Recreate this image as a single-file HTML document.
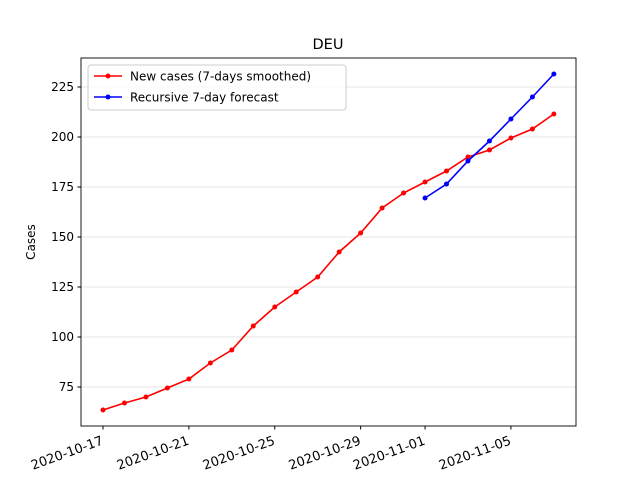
<!DOCTYPE html>
<html><head><meta charset="utf-8"><style>
body{margin:0;background:#fff;font-family:"Liberation Sans","DejaVu Sans",sans-serif}
svg text{font-family:"DejaVu Sans","Liberation Sans",sans-serif}
</style></head><body>
<svg id="chart" width="640" height="480" xmlns="http://www.w3.org/2000/svg">
<rect width="640" height="480" fill="#fff"/>
<text x="328" y="49" font-size="14.5" text-anchor="middle">DEU</text>
<g id="grid"></g>
<g id="axes"></g>
<g id="series"></g>
<rect x="81" y="58" width="495" height="368" fill="none" stroke="#000" stroke-width="0.9"/>
<text transform="translate(35,242) rotate(-90)" font-size="12" text-anchor="middle">Cases</text>
<g>
<rect x="88" y="65" width="258" height="45" rx="3" fill="#fff" fill-opacity="0.8" stroke="#ccc"/>
<line x1="94" y1="76" x2="122" y2="76" stroke="red" stroke-width="1.5"/><circle cx="108" cy="76" r="2.5" fill="red"/>
<text x="130" y="80.5" font-size="12">New cases (7-days smoothed)</text>
<line x1="94" y1="97" x2="122" y2="97" stroke="blue" stroke-width="1.5"/><circle cx="108" cy="97" r="2.5" fill="blue"/>
<text x="130" y="101.5" font-size="12">Recursive 7-day forecast</text>
</g>
</svg>
<script>
const yTicks=[75,100,125,150,175,200,225];
const xTickLabels=["2020-10-17","2020-10-21","2020-10-25","2020-10-29","2020-11-01","2020-11-05"];
const xTickDays=[0,4,8,12,15,19];
const casesDays=[0,1,2,3,4,5,6,7,8,9,10,11,12,13,14,15,16,17,18,19,20,21];
const casesValues=[63.5,67,70,74.5,79,87,93.5,105.5,115,122.5,130,142.5,152,164.5,172,177.5,183,190,193.5,199.5,204,211.5];
const forecastDays=[15,16,17,18,19,20,21];
const forecastValues=[169.5,176.5,188,198,209,220,231.5];
const NS="http://www.w3.org/2000/svg";
const xs=d=>103+d*21.47;
const ys=v=>387-(v-75)*2;
function mk(t,a,p){const e=document.createElementNS(NS,t);for(const k in a)e.setAttribute(k,a[k]);p.appendChild(e);return e;}
const grid=document.getElementById('grid'),axes=document.getElementById('axes'),ser=document.getElementById('series');
yTicks.forEach(v=>{
 const g=mk('line',{x1:81,x2:576,y1:ys(v),y2:ys(v),stroke:'#e5e5e5','stroke-width':1},grid);
 
 
 mk('line',{x1:77.5,x2:81,y1:ys(v),y2:ys(v),stroke:'#000'},axes);
 const t=mk('text',{x:74,y:ys(v)+4,'font-size':12,'text-anchor':'end'},axes);
 
 
 t.textContent=v;
});
xTickDays.forEach((d,i)=>{
 const x=xs(d);
 mk('line',{x1:x,x2:x,y1:426,y2:429.5,stroke:'#000'},axes);
 const t=mk('text',{x:0,y:0,'font-size':13,'text-anchor':'end',transform:`translate(${x+1},${444}) rotate(-20)`},axes);
 
 
 t.textContent=xTickLabels[i];
});
function series(days,vals,color,name){
 const p=mk('polyline',{points:days.map((d,i)=>xs(d)+','+ys(vals[i])).join(' '),fill:'none',stroke:color,'stroke-width':1.6},ser);
 
 
 days.forEach((d,i)=>{
  const c=mk('circle',{cx:xs(d),cy:ys(vals[i]),r:2.5,fill:color},ser);
  
  
 });
}
series(casesDays,casesValues,'red','new-cases');
series(forecastDays,forecastValues,'blue','forecast');
</script>
</body></html>
